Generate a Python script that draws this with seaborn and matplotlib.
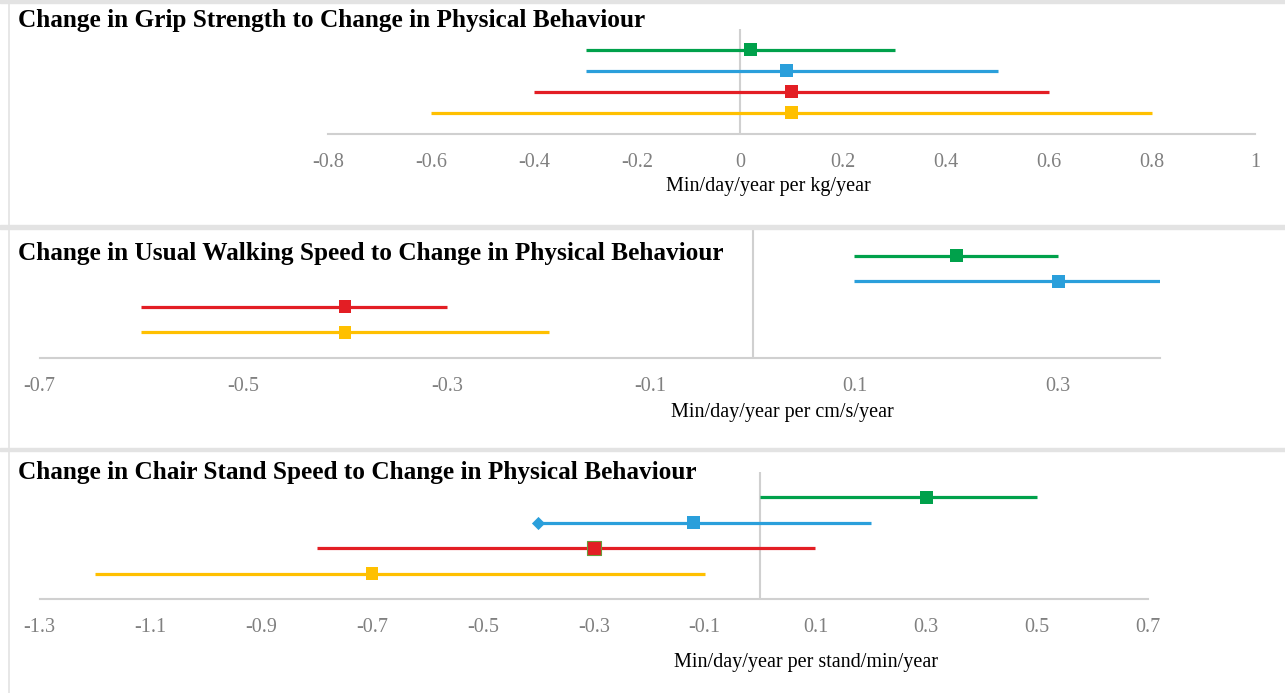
import matplotlib
matplotlib.use("Agg")
import matplotlib.pyplot as plt
import seaborn as sns
import numpy as np
import pandas as pd
from matplotlib.lines import Line2D

sns.set_style("white")
plt.rcParams['font.family'] = ['Liberation Serif', 'DejaVu Serif']

# ---------------- data ----------------
series = ["S1", "S2", "S3", "S4"]          # top to bottom rows
colors = ["#00A14B", "#2A9FDB", "#E31E24", "#FFC000"]
rows = [4, 3, 2, 1]

grip_est = [0.02, 0.09, 0.10, 0.10]
grip_lo = [-0.30, -0.30, -0.40, -0.60]
grip_hi = [0.30, 0.50, 0.60, 0.80]
grip_ticks = [-0.8, -0.6, -0.4, -0.2, 0, 0.2, 0.4, 0.6, 0.8, 1]
grip_ticklabels = ["-0.8", "-0.6", "-0.4", "-0.2", "0", "0.2", "0.4", "0.6", "0.8", "1"]

walk_est = [0.20, 0.30, -0.40, -0.40]
walk_lo = [0.10, 0.10, -0.60, -0.60]
walk_hi = [0.30, 0.40, -0.30, -0.20]
walk_ticks = [-0.7, -0.5, -0.3, -0.1, 0.1, 0.3]
walk_ticklabels = ["-0.7", "-0.5", "-0.3", "-0.1", "0.1", "0.3"]

chair_est = [0.30, -0.12, -0.30, -0.70]
chair_lo = [0.00, -0.40, -0.80, -1.20]
chair_hi = [0.50, 0.20, 0.10, -0.10]
chair_ticks = [-1.3, -1.1, -0.9, -0.7, -0.5, -0.3, -0.1, 0.1, 0.3, 0.5, 0.7]
chair_ticklabels = ["-1.3", "-1.1", "-0.9", "-0.7", "-0.5", "-0.3", "-0.1", "0.1", "0.3", "0.5", "0.7"]

titles = ["Change in Grip Strength to Change in Physical Behaviour",
          "Change in Usual Walking Speed to Change in Physical Behaviour",
          "Change in Chair Stand Speed to Change in Physical Behaviour"]
xlabels = ["Min/day/year per kg/year",
           "Min/day/year per cm/s/year",
           "Min/day/year per stand/min/year"]

# ---------------- figure ----------------
W, H = 1285, 693
fig = plt.figure(figsize=(W / 100, H / 100), dpi=100)
fig.patch.set_facecolor("white")

def fx(px):
    return px / W

def fy(py):
    return 1 - py / H

# panel frames
frame_col = "#E3E3E3"
for y0, y1 in [(0, 2.5), (225, 229), (448, 451)]:
    fig.patches.append(plt.Rectangle((0, fy(y1)), 1, (y1 - y0) / H,
                                     transform=fig.transFigure, color=frame_col, zorder=0))
fig.add_artist(Line2D([fx(8.5), fx(8.5)], [0, 1], color=frame_col, lw=1.2,
                      transform=fig.transFigure))

# axes rectangles in pixels: left, right, top, bottom
boxes = [(328, 1255, 29, 133.5), (39.5, 1160, 230, 358), (39.5, 1148, 472, 599)]
xlims = [(-0.8, 1.0), (-0.7, 0.4), (-1.3, 0.7)]
ests = [grip_est, walk_est, chair_est]
los = [grip_lo, walk_lo, chair_lo]
his = [grip_hi, walk_hi, chair_hi]
ticks = [grip_ticks, walk_ticks, chair_ticks]
ticklabels = [grip_ticklabels, walk_ticklabels, chair_ticklabels]
title_pos = [(18, 21), (18, 254), (18, 472)]
xlabel_pos = [(768, 187), (782, 412), (806, 662)]

axis_col = "#D0D0D0"
for i in range(3):
    l, r, t, b = boxes[i]
    ax = fig.add_axes([fx(l), fy(b), (r - l) / W, (b - t) / H])
    ax.set_facecolor("none")
    df = pd.DataFrame({"series": series, "row": rows, "est": ests[i],
                       "lo": los[i], "hi": his[i]})
    ax.axvline(0, color=axis_col, lw=1.5, zorder=1)
    ax.hlines(df["row"], df["lo"], df["hi"], colors=colors, lw=2.3, zorder=2)
    sns.scatterplot(data=df, x="est", y="row", hue="series", palette=colors,
                    marker="s", s=85, linewidth=0, legend=False, ax=ax, zorder=3)
    if i == 2:
        # diamond at lower end of second row, outline on third-row marker
        ax.scatter([chair_lo[1]], [rows[1]], marker="D", s=45, color=colors[1],
                   linewidth=0, zorder=3)
        ax.scatter([chair_est[2]], [rows[2]], marker="s", s=95, color=colors[2],
                   edgecolor="#6A9A3A", linewidth=0.8, zorder=4)
    ax.set_xlim(*xlims[i])
    ax.set_ylim(0, 5)
    ax.set_xticks(ticks[i])
    ax.set_xticklabels(ticklabels[i])
    ax.set_yticks([])
    ax.set_xlabel("")
    ax.set_ylabel("")
    for s in ["top", "left", "right"]:
        ax.spines[s].set_visible(False)
    ax.spines["bottom"].set_color(axis_col)
    ax.spines["bottom"].set_linewidth(1.5)
    ax.tick_params(axis="x", length=0, pad=14, labelsize=14.5, labelcolor="#808080")
    fig.text(fx(title_pos[i][0]), fy(title_pos[i][1]), titles[i], fontsize=18.2,
             fontweight="bold", ha="left", va="center", color="black")
    fig.text(fx(xlabel_pos[i][0]), fy(xlabel_pos[i][1]), xlabels[i], fontsize=14.5,
             ha="center", va="center", color="black")

fig.savefig("out.png", dpi=100, facecolor="white")
